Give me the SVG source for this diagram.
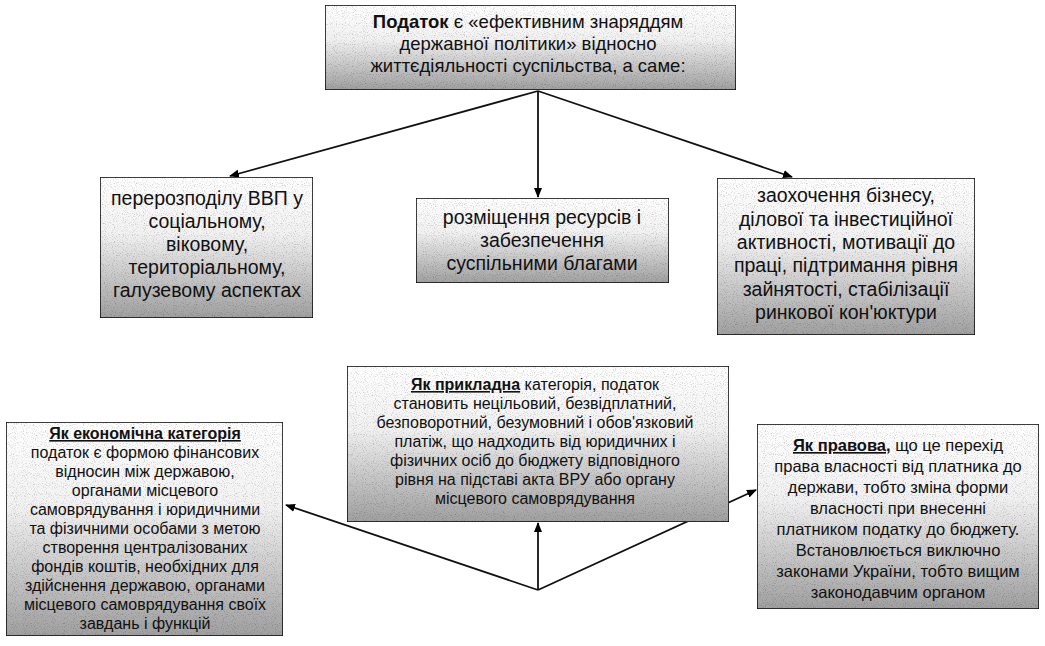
<svg xmlns="http://www.w3.org/2000/svg" width="1045" height="646" viewBox="0 0 1045 646">
  <defs>
    <linearGradient id="fillGrad" x1="0" y1="0" x2="0" y2="1">
      <stop offset="0" stop-color="#ffffff"/>
      <stop offset="0.4" stop-color="#f2f2f2"/>
      <stop offset="0.72" stop-color="#c6c6c6"/>
      <stop offset="1" stop-color="#a0a0a0"/>
    </linearGradient>
    <!-- fine speckle over the box fills -->
    <filter id="grain" x="0" y="0" width="1" height="1">
      <feTurbulence type="fractalNoise" baseFrequency="0.9" numOctaves="1" seed="7" result="noise"/>
      <feColorMatrix in="noise" type="matrix" values="0 0 0 0 0  0 0 0 0 0  0 0 0 0 0  1.4 0 0 0 -0.72" result="dots"/>
      <feComposite in="dots" in2="SourceGraphic" operator="in" result="speckle"/>
      <feMerge>
        <feMergeNode in="SourceGraphic"/>
        <feMergeNode in="speckle"/>
      </feMerge>
    </filter>
    <marker id="arrow" viewBox="0 0 10 10" refX="9" refY="5" markerWidth="10" markerHeight="10" markerUnits="userSpaceOnUse" orient="auto">
      <path d="M0,1 L10,5 L0,9 z" fill="#000"/>
    </marker>
  </defs>
  <style>
    .box { fill: url(#fillGrad); stroke: #111; stroke-width: 1.6; filter: url(#grain); }
    .t { font-family: "Liberation Sans", Arial, sans-serif; fill: #111; text-anchor: middle; }
    .top { font-size: 18.5px; }
    .big { font-size: 19.5px; }
    .sm { font-size: 16px; }
    .sm2 { font-size: 16.5px; }
    .b { font-weight: bold; }
    .u { font-weight: bold; text-decoration: underline; }
    .link { fill: none; stroke: #111; stroke-width: 1.8; marker-end: url(#arrow); }
  </style>
  <rect width="1045" height="646" fill="#ffffff"/>

  <g id="connectors">
    <line class="link" x1="538" y1="91" x2="230" y2="176"/>
    <line class="link" x1="538" y1="91" x2="538" y2="197"/>
    <line class="link" x1="538" y1="91" x2="792" y2="177"/>
    <line class="link" x1="538" y1="590" x2="286" y2="505"/>
    <line class="link" x1="538" y1="590" x2="538" y2="523"/>
    <line class="link" x1="538" y1="590" x2="756" y2="490"/>
  </g>

  <g id="node-tax">
    <rect class="box" x="325" y="5" width="411" height="85"/>
    <text class="t top" x="528" y="28"><tspan class="b">Податок</tspan> є «ефективним знаряддям</text>
    <text class="t top" x="528" y="50">державної політики» відносно</text>
    <text class="t top" x="528" y="72">життєдіяльності суспільства, а саме:</text>
  </g>

  <g id="node-gdp">
    <rect class="box" x="100" y="177" width="213" height="141"/>
    <text class="t big" x="207" y="205">перерозподілу ВВП у</text>
    <text class="t big" x="207" y="228">соціальному,</text>
    <text class="t big" x="207" y="251">віковому,</text>
    <text class="t big" x="207" y="274">територіальному,</text>
    <text class="t big" x="207" y="297">галузевому аспектах</text>
  </g>

  <g id="node-resources">
    <rect class="box" x="416" y="198" width="253" height="85"/>
    <text class="t big" x="542" y="224">розміщення ресурсів і</text>
    <text class="t big" x="542" y="247">забезпечення</text>
    <text class="t big" x="542" y="270">суспільними благами</text>
  </g>

  <g id="node-business">
    <rect class="box" x="717" y="178" width="258" height="157"/>
    <text class="t big" x="846" y="202">заохочення бізнесу,</text>
    <text class="t big" x="846" y="226">ділової та інвестиційної</text>
    <text class="t big" x="846" y="249">активності, мотивації до</text>
    <text class="t big" x="846" y="272">праці, підтримання рівня</text>
    <text class="t big" x="846" y="296">зайнятості, стабілізації</text>
    <text class="t big" x="846" y="319">ринкової кон'юктури</text>
  </g>

  <g id="node-economic">
    <rect class="box" x="6" y="422" width="277" height="214"/>
    <text class="t sm" x="145" y="439"><tspan class="u">Як економічна категорія</tspan></text>
    <text class="t sm" x="145" y="458">податок є формою фінансових</text>
    <text class="t sm" x="145" y="477">відносин між державою,</text>
    <text class="t sm" x="145" y="496">органами місцевого</text>
    <text class="t sm" x="145" y="515">самоврядування і юридичними</text>
    <text class="t sm" x="145" y="534">та фізичними особами з метою</text>
    <text class="t sm" x="145" y="553">створення централізованих</text>
    <text class="t sm" x="145" y="572">фондів коштів, необхідних для</text>
    <text class="t sm" x="145" y="591">здійснення державою, органами</text>
    <text class="t sm" x="145" y="610">місцевого самоврядування своїх</text>
    <text class="t sm" x="145" y="629">завдань і функцій</text>
  </g>

  <g id="node-applied">
    <rect class="box" x="347" y="366" width="382" height="156"/>
    <text class="t sm" x="535" y="390"><tspan class="u">Як прикладна</tspan> категорія, податок</text>
    <text class="t sm" x="535" y="409">становить нецільовий, безвідплатний,</text>
    <text class="t sm" x="535" y="428">безповоротний, безумовний і обов'язковий</text>
    <text class="t sm" x="535" y="447">платіж, що надходить від юридичних і</text>
    <text class="t sm" x="535" y="466">фізичних осіб до бюджету відповідного</text>
    <text class="t sm" x="535" y="485">рівня на підставі акта ВРУ або органу</text>
    <text class="t sm" x="535" y="504">місцевого самоврядування</text>
  </g>

  <g id="node-legal">
    <rect class="box" x="757" y="424" width="282" height="185"/>
    <text class="t sm2" x="898" y="451"><tspan class="u">Як правова,</tspan> що це перехід</text>
    <text class="t sm2" x="898" y="472">права власності від платника до</text>
    <text class="t sm2" x="898" y="493">держави, тобто зміна форми</text>
    <text class="t sm2" x="898" y="514">власності при внесенні</text>
    <text class="t sm2" x="898" y="535">платником податку до бюджету.</text>
    <text class="t sm2" x="898" y="556">Встановлюється виключно</text>
    <text class="t sm2" x="898" y="577">законами України, тобто вищим</text>
    <text class="t sm2" x="898" y="598">законодавчим органом</text>
  </g>
</svg>
